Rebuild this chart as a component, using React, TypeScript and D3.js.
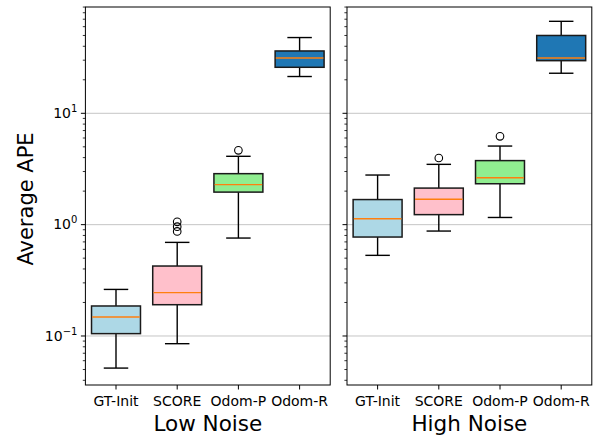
import React from "react";
import * as d3 from "d3";

const categories = ["GT-Init", "SCORE", "Odom-P", "Odom-R"];
const boxColors = ["#add8e6", "#ffc0cb", "#90ee90", "#1f77b4"];
const panelTitles = ["Low Noise", "High Noise"];

// Low noise box statistics
const lowWhiskerLo = [0.0515, 0.0853, 0.758, 21.4];
const lowQ1 = [0.105, 0.191, 1.96, 25.9];
const lowMedian = [0.148, 0.245, 2.29, 31.4];
const lowQ3 = [0.186, 0.425, 2.87, 36.3];
const lowWhiskerHi = [0.262, 0.693, 4.11, 47.9];
const lowOutliers = [[], [1.06, 0.96, 0.87], [4.65], []];

// High noise box statistics
const highWhiskerLo = [0.53, 0.876, 1.16, 22.9];
const highQ1 = [0.774, 1.23, 2.33, 29.7];
const highMedian = [1.13, 1.69, 2.64, 31.4];
const highQ3 = [1.68, 2.13, 3.76, 50.0];
const highWhiskerHi = [2.79, 3.48, 5.08, 67.0];
const highOutliers = [[], [3.97], [6.21], []];

const yMajorTicks = [0.1, 1, 10];
const yMajorExp = ["\u22121", "0", "1"];

const W = 598, H = 436;
const TOP = 7, BOTTOM = 385;
const panelsX = [[85.4, 330.2], [347.0, 591.8]];
const FONT = "DejaVu Sans, sans-serif";

export default function App() {
  const y = d3.scaleLog().domain([0.0363, 90.1]).range([BOTTOM, TOP]);
  const [d0, d1] = y.domain();
  const minorTicks: number[] = [];
  for (let e = -2; e <= 2; e++) {
    for (let m = 2; m <= 9; m++) {
      const v = m * Math.pow(10, e);
      if (v >= d0 && v <= d1) minorTicks.push(v);
    }
  }
  const panels = [
    { lo: lowWhiskerLo, q1: lowQ1, med: lowMedian, q3: lowQ3, hi: lowWhiskerHi, out: lowOutliers },
    { lo: highWhiskerLo, q1: highQ1, med: highMedian, q3: highQ3, hi: highWhiskerHi, out: highOutliers },
  ];

  return (
    <svg width={W} height={H} style={{ position: "absolute", left: 0, top: 0, background: "#fff" }} fontFamily={FONT}>
      <rect x={0} y={0} width={W} height={H} fill="#fff" />
      {panels.map((p, pi) => {
        const [x0, x1] = panelsX[pi];
        const x = d3.scaleBand<string>().domain(categories).range([x0, x1]).paddingInner(0).paddingOuter(0);
        const bw = x.bandwidth();
        const boxW = bw * 0.8;
        const capW = boxW / 2;
        return (
          <g key={pi}>
            {yMajorTicks.map((t) => (
              <line key={"g" + t} x1={x0} x2={x1} y1={y(t)} y2={y(t)} stroke="#b0b0b0" strokeWidth={0.9} opacity={0.8} />
            ))}
            {categories.map((c, i) => {
              const cx = x(c)! + bw / 2;
              return (
                <g key={c}>
                  <line x1={cx} x2={cx} y1={y(p.q1[i])} y2={y(p.lo[i])} stroke="#000" strokeWidth={1.4} />
                  <line x1={cx} x2={cx} y1={y(p.q3[i])} y2={y(p.hi[i])} stroke="#000" strokeWidth={1.4} />
                  <line x1={cx - capW / 2} x2={cx + capW / 2} y1={y(p.lo[i])} y2={y(p.lo[i])} stroke="#000" strokeWidth={1.4} />
                  <line x1={cx - capW / 2} x2={cx + capW / 2} y1={y(p.hi[i])} y2={y(p.hi[i])} stroke="#000" strokeWidth={1.4} />
                  <rect x={cx - boxW / 2} y={y(p.q3[i])} width={boxW} height={y(p.q1[i]) - y(p.q3[i])} fill={boxColors[i]} stroke="#1a1a1a" strokeWidth={1.5} />
                  <line x1={cx - boxW / 2 + 0.7} x2={cx + boxW / 2 - 0.7} y1={y(p.med[i])} y2={y(p.med[i])} stroke="#ff7f0e" strokeWidth={1.4} />
                  {p.out[i].map((o, k) => (
                    <circle key={k} cx={cx} cy={y(o)} r={3.8} fill="none" stroke="#000" strokeWidth={1.1} />
                  ))}
                </g>
              );
            })}
            <rect x={x0} y={TOP} width={x1 - x0} height={BOTTOM - TOP} fill="none" stroke="#000" strokeWidth={1} />
            {yMajorTicks.map((t, k) => (
              <g key={"yt" + t}>
                <line x1={x0 - 4.5} x2={x0} y1={y(t)} y2={y(t)} stroke="#000" strokeWidth={1} />
                {pi === 0 && (
                  <text x={x0 - 8} y={y(t) + 4.8} textAnchor="end" fontSize={14} fill="#000">
                    10<tspan dy={-6} fontSize={10}>{yMajorExp[k]}</tspan>
                  </text>
                )}
              </g>
            ))}
            {minorTicks.map((t) => (
              <line key={"mt" + t} x1={x0 - 2.6} x2={x0} y1={y(t)} y2={y(t)} stroke="#000" strokeWidth={0.8} />
            ))}
            {categories.map((c) => {
              const cx = x(c)! + bw / 2;
              return (
                <g key={"xt" + c}>
                  <line x1={cx} x2={cx} y1={BOTTOM} y2={BOTTOM + 4.5} stroke="#000" strokeWidth={1} />
                  <text x={cx} y={BOTTOM + 20.5} textAnchor="middle" fontSize={14} fill="#000">{c}</text>
                </g>
              );
            })}
            <text x={(x0 + x1) / 2} y={431} textAnchor="middle" fontSize={21.5} fill="#000">{panelTitles[pi]}</text>
          </g>
        );
      })}
      <text transform={`translate(33,${(TOP + BOTTOM) / 2 + 3}) rotate(-90)`} textAnchor="middle" fontSize={21} fill="#000">Average APE</text>
    </svg>
  );
}
